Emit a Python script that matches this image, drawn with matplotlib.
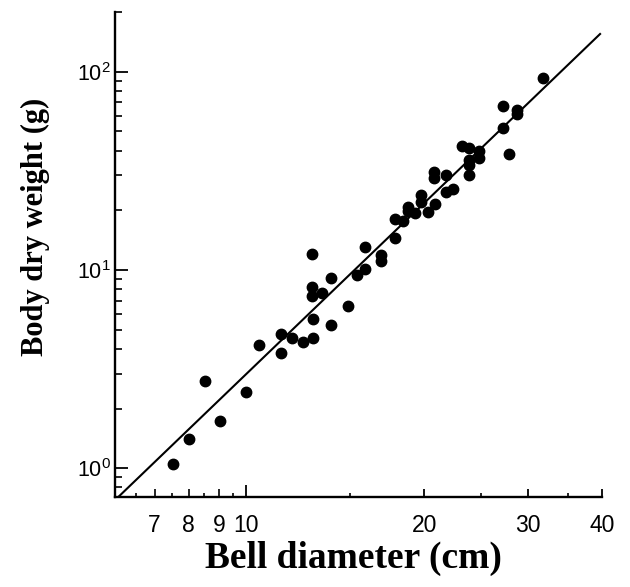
import numpy as np
import matplotlib
matplotlib.use("Agg")
import matplotlib.pyplot as plt
from matplotlib.ticker import FixedLocator, FuncFormatter, LogLocator, NullFormatter

# ---- data ----
bell_diameter = [7.53, 8.02, 8.51, 9.02, 10.0, 10.52, 11.47, 11.47, 11.97, 12.46,
                 12.96, 12.96, 12.93, 12.93, 12.92, 13.42, 13.92, 13.92, 14.9, 15.41,
                 15.9, 15.9, 16.9, 16.9, 17.84, 17.84, 18.4, 18.8, 18.8, 19.3,
                 19.8, 19.8, 20.3, 20.9, 20.8, 20.8, 21.8, 21.8, 22.4, 23.2,
                 23.8, 23.8, 23.8, 23.8, 24.8, 24.8, 27.2, 27.2, 27.8, 28.7,
                 28.7, 31.8]
dry_weight = [1.05, 1.40, 2.77, 1.74, 2.42, 4.17, 4.74, 3.83, 4.54, 4.35,
              4.54, 5.64, 7.42, 8.18, 12.1, 7.63, 9.11, 5.30, 6.58, 9.47,
              10.1, 13.1, 11.9, 11.1, 14.5, 18.1, 17.6, 20.7, 19.9, 19.3,
              24.0, 22.1, 19.6, 21.5, 31.3, 29.0, 30.3, 24.8, 25.7, 42.2,
              41.2, 35.9, 33.9, 30.1, 39.9, 36.6, 67.1, 51.8, 38.5, 64.1,
              61.2, 93.3]

# regression W = a * D^b
fit_a = 0.00407
fit_b = 2.865
fit_range = [6.0, 39.7]

x_major = [10, 20, 30, 40]
x_minor = [6.5, 7, 7.5, 8, 8.5, 9, 9.5, 15, 25, 35]
x_minor_labeled = [7, 8, 9]
y_major = [1, 10, 100]
y_labels = [r"$\mathregular{10^0}$", r"$\mathregular{10^1}$", r"$\mathregular{10^2}$"]

plt.rcParams['mathtext.fontset'] = 'custom'
plt.rcParams['mathtext.rm'] = 'Liberation Sans'
plt.rcParams['font.family'] = 'Liberation Sans'

fig = plt.figure(figsize=(6.30, 5.87), dpi=100)
ax = fig.add_axes([115/630, 1-497/587, (602-115)/630, (497-12)/587])

ax.set_xscale('log')
ax.set_yscale('log')
ax.set_xlim(6.0, 40)
ax.set_ylim(0.716, 200)

xf = np.geomspace(fit_range[0], fit_range[1], 50)
ax.plot(xf, fit_a * xf**fit_b, color='black', lw=1.5, zorder=2)
ax.plot(bell_diameter, dry_weight, 'o', color='black', ms=7.5, mec='black', zorder=3)

for s in ['top', 'right']:
    ax.spines[s].set_visible(False)
for s in ['left', 'bottom']:
    ax.spines[s].set_linewidth(1.7)

ax.xaxis.set_major_locator(FixedLocator(x_major))
ax.xaxis.set_major_formatter(FuncFormatter(lambda v, p: f"{v:g}"))
ax.xaxis.set_minor_locator(FixedLocator(x_minor))
ax.xaxis.set_minor_formatter(FuncFormatter(
    lambda v, p: f"{v:g}" if any(abs(v - m) < 1e-6 for m in x_minor_labeled) else ""))

ax.yaxis.set_major_locator(FixedLocator(y_major))
ax.set_yticklabels(y_labels)
ax.yaxis.set_minor_locator(LogLocator(base=10, subs=np.arange(2, 10)))
ax.yaxis.set_minor_formatter(NullFormatter())

ax.tick_params(axis='x', which='major', direction='in', length=6, width=1.3, labelsize=16.5, pad=12)
ax.tick_params(axis='x', which='minor', direction='in', length=3, width=1.2, labelsize=16.5, pad=12)
ax.tick_params(axis='y', which='major', direction='in', length=9, width=1.3, labelsize=15.5, pad=3)
ax.tick_params(axis='y', which='minor', direction='in', length=5, width=1.2)

# tick-length tweaks: longer at 10, medium at labelled 7, 8, 9
for t, v in zip(ax.xaxis.get_major_ticks(len(x_major)), x_major):
    if v == 10:
        t.tick1line.set_markersize(9)
for t, v in zip(ax.xaxis.get_minor_ticks(len(x_minor)), x_minor):
    if v in x_minor_labeled:
        t.tick1line.set_markersize(6)

ax.set_xlabel('Bell diameter (cm)', fontsize=27, fontweight='bold', family='Liberation Serif')
ax.set_ylabel('Body dry weight (g)', fontsize=22, fontweight='bold', family='Liberation Serif')
ax.xaxis.set_label_coords(0.49, -0.09)
ax.yaxis.set_label_coords(-0.133, 0.556)

fig.savefig('out.png', dpi=100)
